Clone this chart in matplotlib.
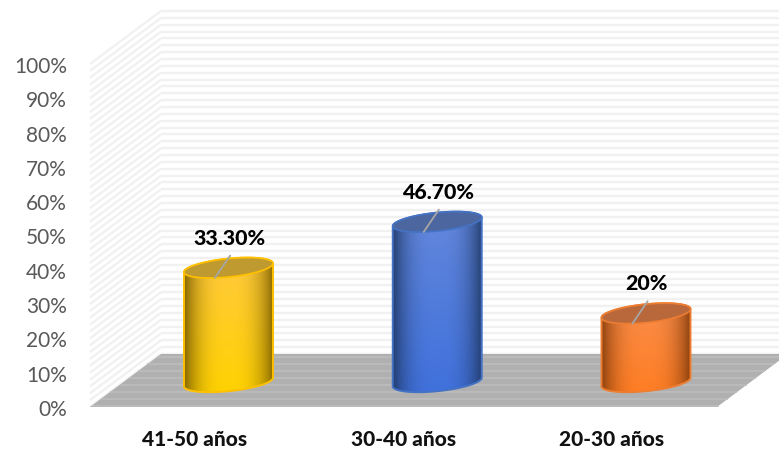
import numpy as np
import matplotlib
matplotlib.use("Agg")
import matplotlib.pyplot as plt
from matplotlib.patches import Polygon
from matplotlib.colors import to_rgb
from matplotlib.transforms import ScaledTranslation

categories = ["41-50 años", "30-40 años", "20-30 años"]
values = [33.3, 46.7, 20.0]
value_labels = ["33.30%", "46.70%", "20%"]
y_ticks = list(range(0, 101, 10))
y_tick_labels = [f"{t}%" for t in y_ticks]

center_colors = ["#ffd200", "#3f70dc", "#ff7d22"]
upper_colors = ["#ffc93f", "#6488dc", "#f98d4c"]
edge_colors = ["#7f6000", "#1f3864", "#843c0c"]
outline_colors = ["#ffc000", "#4472c4", "#ed7d31"]
cap_colors = ["#bf9a30", "#4c679f", "#b9683c"]

W, H = 779, 449
plt.rcParams["font.family"] = ["Lato", "DejaVu Sans"]
fig = plt.figure(figsize=(W / 100, H / 100), dpi=100)
ax = fig.add_axes([90 / W, (H - 407) / H, 627 / W, 343 / H])
ax.set_xlim((90 - 228.5) / 208.75, (717 - 228.5) / 208.75)
ax.set_ylim(0, 100)

PX = 1 / 208.75     # x data units per pixel
PY = 100 / 343      # y data units per pixel
DX, DY = 71 * PX, 53 * PY   # depth of 3D box
x0, x1 = ax.get_xlim()
BASE = 25 * PY      # cylinder base height above the front floor edge

# floor
ax.add_patch(Polygon([(x0, 0), (x0 + DX, DY), (x1 + DX, DY), (x1, 0)],
                     closed=True, fc="#b0b0b0", ec="none", clip_on=False, zorder=1))
for px in np.arange(1.5, 53, 6.9):
    v = px * PY
    t = v / DY
    ax.plot([x0 + DX * t, x1 + DX * t], [v, v], color="#bebebe", lw=1.1,
            clip_on=False, zorder=1.1, solid_capstyle="butt")

# walls with stripes
for v in np.arange(0, 101, 2):
    ax.plot([x0, x0 + DX], [v, v + DY], color="#f1f1f1", lw=1.7,
            clip_on=False, zorder=0.5, solid_capstyle="butt")
    ax.plot([x0 + DX, x1 + DX + 2], [v + DY, v + DY], color="#f1f1f1", lw=1.7,
            clip_on=False, zorder=0.5, solid_capstyle="butt")


def ellipse(xc, yc, t):
    a, b, s = 44.5, 9.2, 0.098
    dx = a * np.cos(t)
    dy = b * np.sin(t) + s * dx
    return xc + dx * PX, yc + dy * PY


for i, (val, lab) in enumerate(zip(values, value_labels)):
    top = BASE + val
    # body outline: lower arc of the base, then upper arc of the top ellipse
    xlow, ylow = ellipse(i, BASE, np.linspace(np.pi, 2 * np.pi, 80))
    xup, yup = ellipse(i, top, np.linspace(0, np.pi, 80))
    body_pts = np.column_stack([np.r_[xlow, xup], np.r_[ylow, yup]])
    body = Polygon(body_pts, closed=True, fc="none", ec=outline_colors[i], lw=1.4,
                   zorder=4, clip_on=False)

    # shaded fill
    nx, ny = 120, 80
    u = np.linspace(-1, 1, nx)[None, :]
    w = np.linspace(1, 0, ny)[:, None]   # 1 at top of the image
    side = np.abs(u) ** 2.8
    c, up, e = map(np.array, map(to_rgb, (center_colors[i], upper_colors[i], edge_colors[i])))
    rgb = c[None, None, :] * (1 - w[..., None]) + up[None, None, :] * w[..., None]
    rgb = rgb * (1 - side[..., None]) + e[None, None, :] * side[..., None]
    ext = (i - 46 * PX, i + 46 * PX, BASE - 14 * PY, top + 14 * PY)
    im = ax.imshow(rgb, extent=ext, aspect="auto", origin="upper", zorder=3, interpolation="bilinear")
    im.set_clip_path(Polygon(body_pts, closed=True, transform=ax.transData))
    ax.add_patch(body)

    # cap
    xc, yc = ellipse(i, top, np.linspace(0, 2 * np.pi, 160))
    ax.add_patch(Polygon(np.column_stack([xc, yc]), closed=True, fc=cap_colors[i],
                         ec=outline_colors[i], lw=1.2, zorder=5, clip_on=False))

    # leader line and label
    ax.plot([i - 13.5 * PX, i + 1.5 * PX], [top - 10 * PY, top + 12 * PY],
            color="#a6a6a6", lw=1.3, zorder=6, clip_on=False)
    ax.annotate(lab, (i, top), xytext=(0.5, 29.5 * 0.72), textcoords="offset points",
                ha="center", va="center", fontsize=15.4, fontweight="black",
                color="black", zorder=7)

ax.set_xlim(x0, x1)
ax.set_ylim(0, 100)
for s in ax.spines.values():
    s.set_visible(False)
ax.patch.set_alpha(0)
ax.set_yticks(y_ticks, y_tick_labels)
ax.set_xticks(range(len(categories)), categories)
ax.tick_params(axis="y", length=0, pad=23 * 0.72, labelsize=15, labelcolor="#595959")
ax.tick_params(axis="x", length=0, pad=23 * 0.72, labelsize=15, labelcolor="#111111")
for t in ax.get_xticklabels():
    t.set_fontweight("black")
    t.set_transform(t.get_transform() + ScaledTranslation(-34 / 100, 0, fig.dpi_scale_trans))
shift = ScaledTranslation(0, -1 / 100, fig.dpi_scale_trans)
for t in ax.get_yticklabels():
    t.set_transform(t.get_transform() + shift)

fig.savefig("out.png", dpi=100)
